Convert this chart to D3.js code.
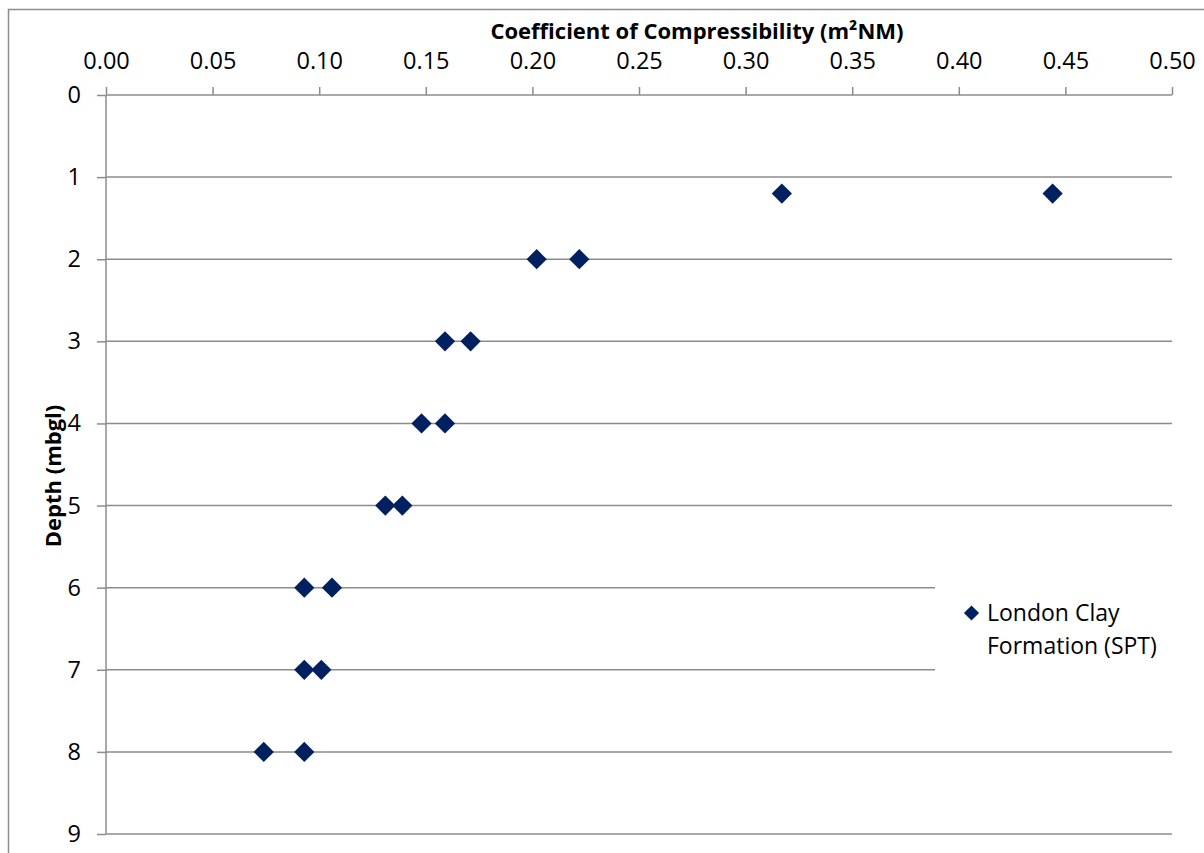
<!DOCTYPE html>
<html>
<head>
<meta charset="utf-8">
<script src="https://cdn.jsdelivr.net/npm/d3@7"></script>
<style>
  html, body { margin: 0; padding: 0; background: #fff; }
  svg { display: block; }
  text { font-family: "Open Sans", "Liberation Sans", sans-serif; fill: #000; }
</style>
</head>
<body>
<svg id="chart" width="1204" height="853"></svg>
<script>
// Data
const depths = [1.2, 1.2, 2, 2, 3, 3, 4, 4, 5, 5, 6, 6, 7, 7, 8, 8];
const coefficients = [0.317, 0.444, 0.202, 0.222, 0.159, 0.171, 0.148, 0.159, 0.131, 0.139, 0.093, 0.106, 0.093, 0.101, 0.074, 0.093];
const xTicks = [0, 0.05, 0.1, 0.15, 0.2, 0.25, 0.3, 0.35, 0.4, 0.45, 0.5];
const yTicks = [0, 1, 2, 3, 4, 5, 6, 7, 8, 9];
const seriesName = ["London Clay", "Formation (SPT)"];
const xTitle = "Coefficient of Compressibility (m²NM)";
const yTitle = "Depth (mbgl)";

const svg = d3.select("#chart");
const gridColor = "#8c8c8c";
const markColor = "#002060";
const tickFont = 23.5;

// outer chart border
svg.append("rect").attr("x", 8.5).attr("y", 9.5).attr("width", 1300).attr("height", 1000)
  .attr("fill", "none").attr("stroke", "#8c8c8c").attr("stroke-width", 1.5);

const x = d3.scaleLinear().domain([0, 0.5]).range([106, 1172]);
const y = d3.scaleLinear().domain([0, 9]).range([95, 834]);

// gridlines
svg.append("g").selectAll("line").data(yTicks.slice(1)).join("line")
  .attr("x1", x(0)).attr("x2", x(0.5))
  .attr("y1", d => y(d)).attr("y2", d => y(d))
  .attr("stroke", gridColor).attr("stroke-width", 1.5);

// top axis
const xAxis = d3.axisTop(x).tickValues(xTicks).tickFormat(d3.format(".2f")).tickSize(8).tickPadding(18);
const gx = svg.append("g").attr("transform", `translate(0,${y(0)})`).call(xAxis);
gx.select(".domain").attr("stroke", gridColor).attr("stroke-width", 1.5).attr("d", `M${x(0)},0H${x(0.5)}`);
gx.selectAll(".tick line").attr("stroke", gridColor).attr("stroke-width", 1.5);
gx.selectAll(".tick text").attr("font-size", tickFont).attr("font-family", "'Open Sans', sans-serif").attr("fill", "#000");

// left axis
const yAxis = d3.axisLeft(y).tickValues(yTicks).tickFormat(d3.format("d")).tickSize(9).tickPadding(16);
const gy = svg.append("g").attr("transform", `translate(${x(0)},0)`).call(yAxis);
gy.select(".domain").attr("stroke", gridColor).attr("stroke-width", 1.5).attr("d", `M0,${y(0)}V${y(9)}`);
gy.selectAll(".tick line").attr("stroke", gridColor).attr("stroke-width", 1.5);
gy.selectAll(".tick text").attr("font-size", tickFont).attr("font-family", "'Open Sans', sans-serif").attr("fill", "#000");

// legend background (covers gridlines)
svg.append("rect").attr("x", 935).attr("y", 575).attr("width", 237).attr("height", 105).attr("fill", "#fff");

// points
const diamond = d3.symbol().type(d3.symbolSquare).size(205);
svg.append("g").selectAll("path").data(depths.map((d, i) => ({ d, c: coefficients[i] }))).join("path")
  .attr("d", diamond)
  .attr("transform", p => `translate(${x(p.c)},${y(p.d)}) rotate(45)`)
  .attr("fill", markColor);

// legend
svg.append("path").attr("d", d3.symbol().type(d3.symbolSquare).size(115))
  .attr("transform", "translate(971.5,613) rotate(45)").attr("fill", markColor);
svg.append("g").selectAll("text").data(seriesName).join("text")
  .attr("x", 987).attr("y", (d, i) => 613 + i * 33).attr("dy", "0.35em")
  .attr("font-size", 23).text(d => d);

// titles
svg.append("text").attr("x", 697).attr("y", 31).attr("dy", "0.35em").attr("text-anchor", "middle")
  .attr("font-size", 22).attr("font-weight", "bold").text(xTitle);
svg.append("text").attr("transform", "translate(53,476) rotate(-90)").attr("dy", "0.35em")
  .attr("text-anchor", "middle").attr("font-size", 22).attr("font-weight", "bold").text(yTitle);
</script>
</body>
</html>
